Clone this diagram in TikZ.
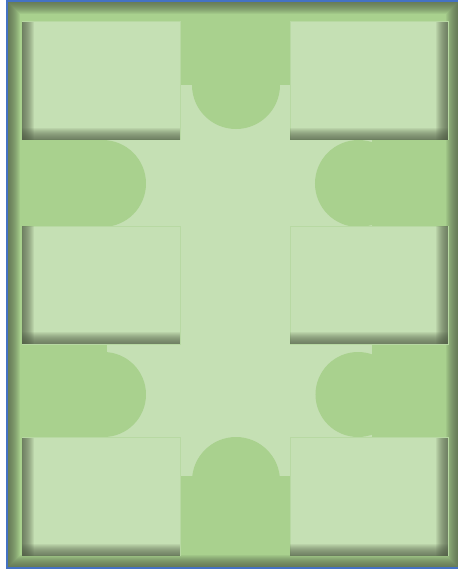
\documentclass[tikz,border=0pt]{standalone}
\usepackage{tikz}
\usetikzlibrary{calc}
\definecolor{PadGreen}{RGB}{197,224,180}
\definecolor{LobeGreen}{RGB}{169,209,142}
\definecolor{ShadowGrey}{RGB}{78,90,68}
\definecolor{EdgeBlue}{RGB}{68,114,196}
\tikzset{
  pad/.style={fill=PadGreen, draw=LobeGreen!45!PadGreen, line width=0.4pt,
    minimum width=79pt, minimum height=59pt, inner sep=0pt, outer sep=0pt},
  lobe/.style={fill=LobeGreen},
  shadowlayer/.style={fill=ShadowGrey, opacity=0.09},
  framerim/.style={draw=EdgeBlue, line width=0.8pt},
}
\begin{document}
\begin{tikzpicture}[x=0.5pt, y=-0.5pt]
  \useasboundingbox (0,0) rectangle (457,575);
  % frame and inner field
  \fill[LobeGreen] (7,1) rectangle (459,568);
  \fill[PadGreen] (22,22) rectangle (448,556);
  % lobes
  \fill[lobe] (180,1) rectangle (290,85);
  \fill[lobe] (236,85) circle[radius=44];
  \fill[lobe] (180,476) rectangle (290,568);
  \fill[lobe] (236,481) circle[radius=44];
  \fill[lobe] (7,140) rectangle (103,227);
  \fill[lobe] (102.5,183.5) circle[radius=43.5];
  \fill[lobe] (7,344) rectangle (107,437);
  \fill[lobe] (103.5,394.5) circle[radius=42.5];
  \fill[lobe] (372,140) rectangle (459,227);
  \fill[lobe] (358.5,183.5) circle[radius=43.5];
  \fill[lobe] (372,344) rectangle (459,437);
  \fill[lobe] (358,394.5) circle[radius=42.5];
  % frame inner shadow
  \begin{scope}
    \clip (7,1) rectangle (459,568);
    \foreach \k in {1,...,13}
      \draw[ShadowGrey, opacity=0.09, line width=\k pt] (7,1) rectangle (459,568);
  \end{scope}
  \draw[framerim] (7,1) rectangle (459,568);
  % pads
  \foreach \n/\x/\y in {tl/101/80.5, tr/369/80.5, ml/101/285, mr/369/285, bl/101/496.5, br/369/496.5}
    \node[pad] (\n) at (\x,\y) {};
  % pad shadows
  \foreach \n in {tl,ml,bl}
    \foreach \k in {1,...,12} {
      \fill[shadowlayer] (\n.north west) rectangle ([xshift=\k*0.5pt]\n.south west);
      \fill[shadowlayer] (\n.south east) rectangle ([yshift=\k*0.5pt]\n.south west);
    }
  \foreach \n in {tr,mr,br}
    \foreach \k in {1,...,12} {
      \fill[shadowlayer] (\n.north east) rectangle ([xshift=-\k*0.5pt]\n.south east);
      \fill[shadowlayer] (\n.south west) rectangle ([yshift=\k*0.5pt]\n.south east);
    }
\end{tikzpicture}
\end{document}
